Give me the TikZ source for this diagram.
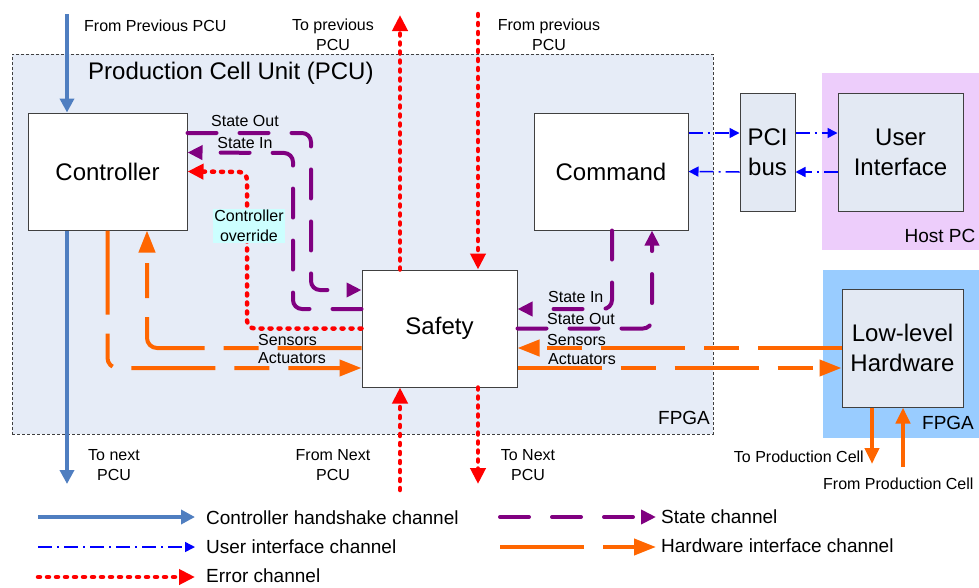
\documentclass[tikz,border=0pt]{standalone}
\usepackage{fontspec}
\setmainfont{Liberation Sans}
\usetikzlibrary{positioning,arrows.meta}
\usepackage{xcolor}

\definecolor{hsblue}{HTML}{4F7EC0}
\definecolor{uiblue}{HTML}{0000FF}
\definecolor{errred}{HTML}{FF0000}
\definecolor{statepurple}{HTML}{800080}
\definecolor{hworange}{HTML}{FF6600}
\definecolor{pcufill}{HTML}{E6ECF7}
\definecolor{boxfill}{HTML}{E3E9F3}
\definecolor{hostfill}{HTML}{EDCDFB}
\definecolor{fpgafill}{HTML}{99CCFF}
\definecolor{overfill}{HTML}{CCFFFF}

\newcommand{\lblfont}{\fontsize{16}{20}\selectfont}
\newcommand{\midfont}{\fontsize{19}{23}\selectfont}
\newcommand{\boxfont}{\fontsize{24}{30}\selectfont}

\tikzset{
  region/.style={inner sep=0pt, outer sep=0pt},
  block/.style={draw=black!75, line width=1pt, fill=white, inner sep=0pt, align=center, font=\boxfont},
  lbl/.style={font=\lblfont, inner sep=0pt, align=center},
  lgd/.style={font=\midfont, inner sep=0pt, anchor=west},
  handshake/.style={hsblue, line width=3.5pt, -{Triangle[length=14pt,width=14pt]}},
  uich/.style={uiblue, line width=1.5pt, dash pattern=on 14pt off 5pt on 2pt off 5pt, -{Triangle[length=10pt,width=10pt]}},
  errch/.style={errred, line width=4.5pt, line cap=round, dash pattern=on 2pt off 7pt, -{Triangle[length=16pt,width=15pt]}},
  statech/.style={statepurple, line width=4pt, line cap=round, dash pattern=on 29pt off 23pt, rounded corners=9pt, -{Triangle[length=15pt,width=14pt]}},
  hwch/.style={hworange, line width=4pt, dash pattern=on 84pt off 19pt on 35pt off 19pt, rounded corners=10pt, -{Triangle[length=22pt,width=16pt]}},
  hwsolid/.style={hworange, line width=4pt, -{Triangle[length=16pt,width=14pt]}}
}

\begin{document}
\begin{tikzpicture}[x=1pt,y=-1pt]
\useasboundingbox (0,0) rectangle (979,587);

% background regions
\node[region, fill=pcufill, draw=black!75, line width=0.8pt, dash pattern=on 3pt off 2pt,
      minimum width=701pt, minimum height=380pt] (pcu) at (362.5,244) {};
\node[region, fill=hostfill, minimum width=157pt, minimum height=177pt] (host) at (900.5,161.5) {};
\node[region, fill=fpgafill, minimum width=156pt, minimum height=168pt] (llfpga) at (901,354) {};

\node[font=\boxfont, anchor=west, inner sep=0pt] (pcutitle) at (88,73) {Production Cell Unit (PCU)};
\node[font=\midfont, inner sep=0pt] (pcufpga) at (684,418) {FPGA};
\node[font=\midfont, inner sep=0pt] (hostlbl) at (940,236) {Host PC};
\node[font=\midfont, inner sep=0pt] (llfpgalbl) at (948,423) {FPGA};

% blocks
\node[block, minimum width=159pt, minimum height=117pt] (ctrl) at (107.5,171.5) {Controller};
\node[block, minimum width=154pt, minimum height=117pt] (cmd) at (611,171.5) {Command};
\node[block, minimum width=155pt, minimum height=117pt] (safety) at (439.5,328.5) {Safety};
\node[block, fill=boxfill, minimum width=55pt, minimum height=118pt] (pci) at (767.5,152) {PCI\\bus};
\node[block, fill=boxfill, minimum width=125pt, minimum height=118pt] (ui) at (900.5,152) {User\\Interface};
\node[block, fill=boxfill, minimum width=121pt, minimum height=118pt] (llhw) at (902.5,348) {Low-level\\Hardware};

% free ends
\coordinate (prevpcu) at (67,14);
\coordinate (nextpcu) at (67,484);
\coordinate (errup) at (400,15);
\coordinate (errdown) at (478,14);
\coordinate (errnextin) at (400,490);
\coordinate (errnextout) at (478,484);
\coordinate (tocell) at (872,464);
\coordinate (fromcell) at (903,467);

% controller handshake
\draw[handshake] (prevpcu) -- (prevpcu |- ctrl.north);
\draw[handshake] (prevpcu |- ctrl.south) -- (nextpcu);

% error channel
\draw[errch] (errup |- safety.north) -- (errup);
\draw[errch] (errdown) -- (errdown |- safety.north);
\draw[errch] (errnextin) -- (errnextin |- safety.south);
\draw[errch] (errnextout |- safety.south) -- (errnextout);
\draw[errch, rounded corners=8pt] (safety.west) -| (247,172) -- (ctrl.east);

% state channel
\draw[statech] ([yshift=38.5pt]ctrl.east) -- (311,133) -- (311,290) -- ([yshift=38.5pt]safety.west);
\draw[statech] ([yshift=19.5pt]safety.west) -- (293,309) -- (293,153) -- ([yshift=19pt]ctrl.east);
\draw[statech] ([xshift=1pt]cmd.south) -- (612,309) -- ([yshift=19.5pt]safety.east);
\draw[statech] (safety.east) -| ([xshift=41pt]cmd.south);

% hardware interface
\draw[hwch] (ctrl.south) |- ([yshift=-39.5pt]safety.west);
\draw[hwch] ([yshift=-19.5pt]safety.west) -| ([xshift=39.5pt]ctrl.south);
\draw[hwch] ([yshift=-39.5pt]safety.east) -- ([yshift=-20pt]llhw.west);
\draw[hwch] (llhw.west) -- ([yshift=-19.5pt]safety.east);
\draw[hwsolid] (tocell |- llhw.south) -- (tocell);
\draw[hwsolid] (fromcell) -- (fromcell |- llhw.south);

% user interface
\draw[uich] ([yshift=38.5pt]cmd.east) -- ([yshift=19pt]pci.west);
\draw[uich] ([yshift=19pt]pci.east) -- ([yshift=19pt]ui.west);
\draw[uich] ([yshift=-20pt]ui.west) -- ([yshift=-20pt]pci.east);
\draw[uich] ([yshift=-20pt]pci.west) -- (cmd.east);

% labels
\node[lbl, anchor=west] (fromprev) at (84,26) {From Previous PCU};
\node[lbl] (toprevpcu) at (333,34.5) {To previous\\PCU};
\node[lbl] (fromprevpcu) at (549,34.5) {From previous\\PCU};
\node[lbl] (stateoutl) at (245,121) {State Out};
\node[lbl] (stateinl) at (245,143) {State In};
\node[lbl, fill=overfill, inner sep=1pt] (override) at (249,226) {Controller\\override};
\node[lbl, anchor=west] (sensl) at (258,340) {Sensors};
\node[lbl, anchor=west] (actl) at (258,358) {Actuators};
\node[lbl, anchor=west] (stateinr) at (548,297) {State In};
\node[lbl, anchor=west] (stateoutr) at (547,319) {State Out};
\node[lbl, anchor=west] (sensr) at (547,340) {Sensors};
\node[lbl, anchor=west] (actr) at (548,359) {Actuators};
\node[lbl] (tonext) at (114,465) {To next\\PCU};
\node[lbl] (fromnext) at (333,465) {From Next\\PCU};
\node[lbl] (toNext) at (528,465) {To Next\\PCU};
\node[lbl, anchor=east] (tocelllbl) at (864,457) {To Production Cell};
\node[lbl, anchor=west] (fromcelllbl) at (823,484) {From Production Cell};

% legend
\node[lgd] (lghs) at (206,518) {Controller handshake channel};
\node[lgd] (lgui) at (206,547) {User interface channel};
\node[lgd] (lgerr) at (206,576) {Error channel};
\node[lgd] (lgstate) at (661,517) {State channel};
\node[lgd] (lghw) at (661,546) {Hardware interface channel};
\draw[handshake] (38,517) -- ([xshift=-11pt]lghs.west |- 0,517);
\draw[uich] (38,547) -- ([xshift=-11pt]lgui.west |- 0,547);
\draw[errch] (38,577) -- ([xshift=-11pt]lgerr.west |- 0,577);
\draw[statech] (500,517) -- ([xshift=-5pt]lgstate.west |- 0,517);
\draw[hwch] (500,547) -- ([xshift=-5pt]lghw.west |- 0,547);
\end{tikzpicture}
\end{document}
